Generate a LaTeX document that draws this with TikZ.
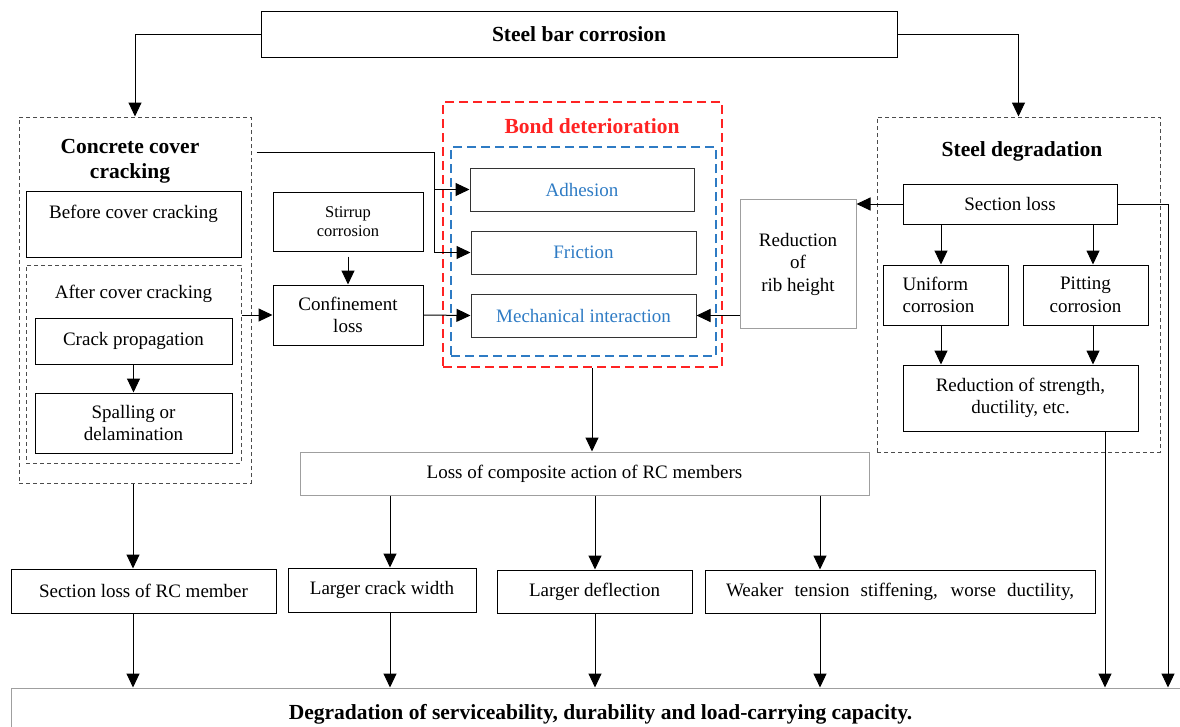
\documentclass[tikz,border=0pt]{standalone}
\usepackage{fontspec}
\setmainfont{Liberation Serif}
\usepackage{tikz}
\usetikzlibrary{arrows.meta,
                positioning,
                calc}
\definecolor{bondred}{HTML}{FF2323}
\definecolor{bondblue}{HTML}{2E7BC4}
\newcommand{\boxfont}{\fontsize{19}{22.5}\selectfont}
\newcommand{\smallboxfont}{\fontsize{16.5}{18.5}\selectfont}
\newcommand{\headfont}{\fontsize{21.5}{25}\selectfont\bfseries}
\tikzset{box/.style=
   {rectangle,
    draw,
    line width=1pt,
    text centered,
    align=center,
    inner sep=2pt,
    font=\boxfont}}
\tikzset{softbox/.style =
   {box,
    draw=gray!75}}
\tikzset{bondbox/.style =
   {box,
    draw=black!80,
    text=bondblue}}
\tikzset{group/.style =
   {rectangle,
    draw=black!70,
    line width=1pt,
    dash pattern=on 4pt off 3pt}}
\tikzset{bondgroup/.style =
   {rectangle,
    line width=2pt,
    dash pattern=on 9pt off 5pt}}
\tikzset{heading/.style =
   {align=center,
    font=\headfont}}
\tikzset{arrow/.style = {draw, line width=1pt, -{Triangle[length=14pt,width=13pt]}}}
\tikzset{link/.style = {draw, line width=1pt}}

\begin{document}
\begin{tikzpicture}[x=1pt, y=-1pt]

    \useasboundingbox (0,0) rectangle (1180,726);

    % top
    \node [box,
           minimum width=636pt,
           minimum height=46pt,
           font=\headfont] (steelbar) at (579,34) {Steel bar corrosion};

    % concrete cover cracking
    \node [group,
           minimum width=232pt,
           minimum height=366pt] (covergroup) at (135,300) {};
    \node [heading] (covertitle) at (130,161) {Concrete cover\\cracking};
    \node [box,
           anchor=north,
           minimum width=215pt,
           inner ysep=0pt,
           text height=27pt,
           text depth=39pt] (before) at (133.5,191) {Before cover cracking};
    \node [group,
           minimum width=215pt,
           minimum height=198pt] (aftergroup) at (133.5,364) {};
    \node [font=\boxfont] (aftertitle) at (133.5,294) {After cover cracking};
    \node [box,
           minimum width=197pt,
           minimum height=46pt] (crackprop) at (133.5,341) {Crack propagation};
    \node [box,
           minimum width=197pt,
           minimum height=60pt] (spalling) at (133.5,423) {Spalling or\\delamination};

    % confinement
    \node [box,
           minimum width=150pt,
           minimum height=59pt,
           font=\smallboxfont] (stirrup) at (348,221.5) {Stirrup\\corrosion};
    \node [box,
           minimum width=150pt,
           minimum height=60pt] (confine) at (348,315) {Confinement\\loss};

    % bond deterioration
    \node [bondgroup,
           draw=bondred,
           minimum width=279pt,
           minimum height=265pt] (bondgroup) at (582.5,234.5) {};
    \node [heading,
           text=bondred] (bondtitle) at (592,126) {Bond deterioration};
    \node [bondgroup,
           draw=bondblue,
           minimum width=265pt,
           minimum height=209pt] (bondinner) at (583.5,251.5) {};
    \node [bondbox,
           minimum width=224pt,
           minimum height=43pt] (adhesion) at (582,189.5) {Adhesion};
    \node [bondbox,
           minimum width=225pt,
           minimum height=43pt] (friction) at (583.5,252.5) {Friction};
    \node [bondbox,
           minimum width=225pt,
           minimum height=43pt] (mech) at (583.5,315.5) {Mechanical interaction};

    \node [softbox,
           minimum width=116pt,
           minimum height=129pt] (ribs) at (798,264) {Reduction\\of\\rib height};

    % steel degradation
    \node [group,
           minimum width=283pt,
           minimum height=335pt] (steelgroup) at (1018.5,284.5) {};
    \node [heading] (steeltitle) at (1022,151) {Steel degradation};
    \node [box,
           minimum width=214pt,
           minimum height=40pt] (secloss) at (1010,204) {Section loss};
    \node [box,
           minimum width=125pt,
           minimum height=60pt,
           align=left] (uniform) at (945.5,295) {Uniform\\corrosion\hspace*{14pt}};
    \node [box,
           minimum width=125pt,
           minimum height=60pt] (pitting) at (1085.5,295) {Pitting\\corrosion};
    \node [box,
           minimum width=235pt,
           minimum height=66pt] (strength) at (1020.5,398) {Reduction of strength,\\ductility, etc.};

    % consequences
    \node [softbox,
           minimum width=569pt,
           minimum height=43pt] (composite) at (584.5,473.5) {Loss of composite action of RC members};
    \node [box,
           minimum width=265pt,
           minimum height=44pt] (rcloss) at (143.5,591) {Section loss of RC member};
    \node [box,
           minimum width=188pt,
           minimum height=44pt] (crackwidth) at (382,590) {Larger crack width};
    \node [box,
           minimum width=195pt,
           minimum height=43pt] (deflection) at (594.5,591.5) {Larger deflection};
    \node [box,
           minimum width=390pt,
           minimum height=43pt] (weaker) at (900,591.5)
    {\makebox[348pt][s]{Weaker tension stiffening, worse ductility,}};
    \node [softbox,
           minimum width=1179pt,
           minimum height=52pt,
           font=\fontsize{21.5}{25}\selectfont\bfseries] (capacity) at (600.5,714)
    {\raisebox{2pt}{Degradation of serviceability, durability and load-carrying capacity.}};

    \coordinate (split) at (434,152);
    \coordinate (bondcol) at (592,0);
    \coordinate (pitcol) at (1093,0);
    \coordinate (unicol) at (941,0);
    \coordinate (col1) at (133,0);
    \coordinate (col2) at (390,0);
    \coordinate (col3) at (595,0);
    \coordinate (col4) at (820,0);
    \coordinate (col5) at (1105,0);
    \coordinate (col6) at (1168,0);

    \draw [arrow] (steelbar.west) -| (covergroup.north);
    \draw [arrow] (steelbar.east) -| (steelgroup.north);

    \draw [arrow] ([xshift=5pt]covergroup.east |- split) -- (split) |- (friction.west);
    \draw [arrow] (split |- adhesion.west) -- (adhesion.west);
    \draw [arrow] (crackprop.south) -- (spalling.north);
    \draw [arrow] (aftergroup.east |- confine.west) -- (confine.west);
    \draw [arrow] ([yshift=-5pt]stirrup.south) -- (confine.north);
    \draw [arrow] (confine.east) -- (mech.west);
    \draw [arrow] (ribs.west |- mech.east) -- (mech.east);

    \draw [arrow] (secloss.west) -- (secloss.west -| ribs.east);
    \draw [arrow] (secloss.south -| unicol) -- (uniform.north -| unicol);
    \draw [arrow] (secloss.south -| pitcol) -- (pitting.north -| pitcol);
    \draw [arrow] (uniform.south -| unicol) -- (strength.north -| unicol);
    \draw [arrow] (pitting.south -| pitcol) -- (strength.north -| pitcol);
    \draw [arrow] (secloss.east) -| (capacity.north -| col6);
    \draw [arrow] (strength.south -| col5) -- (capacity.north -| col5);

    \draw [arrow] (bondgroup.south -| bondcol) -- (composite.north -| bondcol);
    \draw [arrow] (covergroup.south -| col1) -- (rcloss.north -| col1);
    \draw [arrow] (composite.south -| col2) -- (crackwidth.north -| col2);
    \draw [arrow] (composite.south -| col3) -- (deflection.north -| col3);
    \draw [arrow] (composite.south -| col4) -- (weaker.north -| col4);

    \draw [arrow] (rcloss.south -| col1) -- (capacity.north -| col1);
    \draw [arrow] (crackwidth.south -| col2) -- (capacity.north -| col2);
    \draw [arrow] (deflection.south -| col3) -- (capacity.north -| col3);
    \draw [arrow] (weaker.south -| col4) -- (capacity.north -| col4);

\end{tikzpicture}
\end{document}
